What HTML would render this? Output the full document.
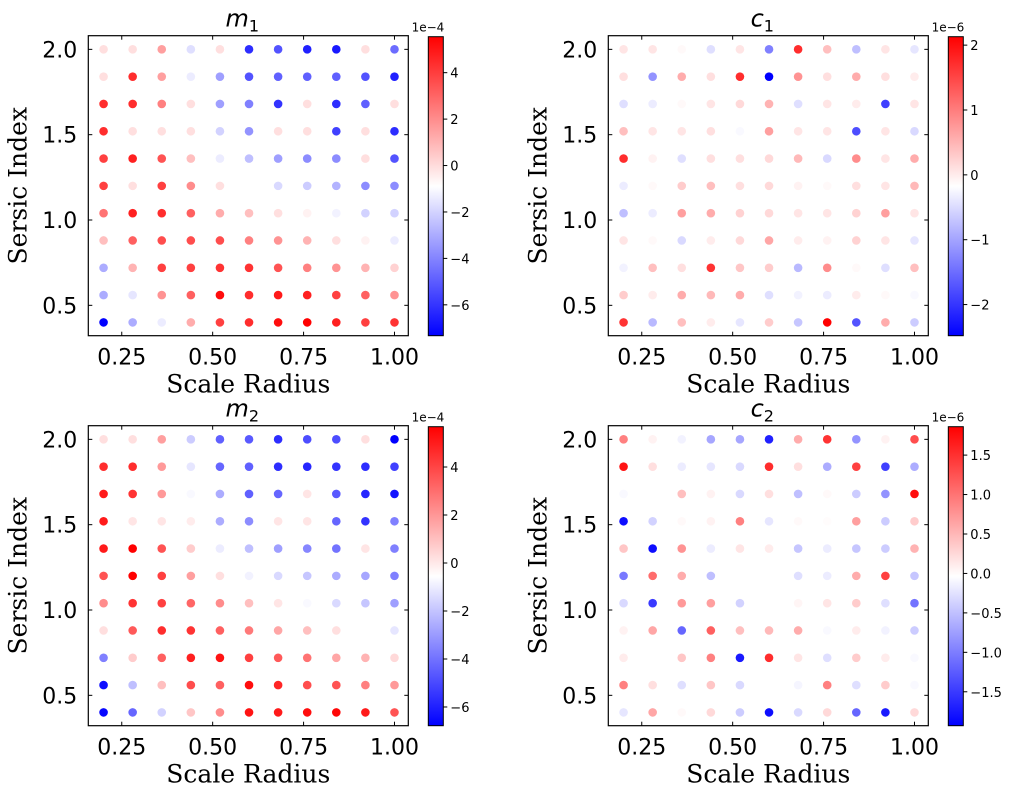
<!DOCTYPE html>
<html><head><meta charset="utf-8"><style>
body{margin:0;background:#fff;}
svg text{font-family:"DejaVu Sans","Liberation Sans",sans-serif;}
</style></head><body>
<svg id="fig" width="1016" height="798" xmlns="http://www.w3.org/2000/svg"></svg>
<script>
const xCats=[0.2,0.28,0.36,0.44,0.52,0.6,0.68,0.76,0.84,0.92,1.0];
const yCats=[2.0,1.84,1.68,1.52,1.36,1.2,1.04,0.88,0.72,0.56,0.4];
const xTicks=[0.25,0.5,0.75,1.0];
const xTickLabels=["0.25","0.50","0.75","1.00"];
const yTicks=[0.5,1.0,1.5,2.0];
const yTickLabels=["0.5","1.0","1.5","2.0"];
// colour levels (-4 full blue .. 4 full red), rows top (2.0) to bottom (0.4)
const m1Vals=[
[0.5,0.5,1.5,-0.5,0.5,-3.3,-2.7,-3.5,-3.6,0.5,-2.3],
[0.5,3.3,1.5,-0.3,-1.5,-2.7,-2.5,-2.5,-2.5,-2.7,-3.5],
[3.3,3.3,2,0.5,-1.5,-2,-3.2,0.5,-3.3,-2.5,0.5],
[3.3,0.5,0.5,0.5,-0.7,-1.7,0.5,0.5,-3,0.5,-3.3],
[3,3.5,2.7,1,-0.3,-1,-1.5,-1.8,-1.8,0.5,-2.7],
[3,0.5,3,1.8,0.5,0,-0.6,-0.8,-1.2,-1.8,-1.8],
[2.2,3.5,3.3,2.5,1.3,1,0.5,0.2,-0.2,-0.7,-0.7],
[1,2.5,2.8,2.8,2.8,2,1.7,1.2,0.5,0.2,-0.3],
[-1.3,1.2,3,3,3.2,3.2,2.7,2,1.7,1.2,0.7],
[-1.3,-0.4,1.7,2.5,3.8,3.3,3.6,3.5,3,2.5,1.7],
[-4,-1.3,-0.3,1.3,3,3.3,3.8,4,3.5,3,3.2]];
const c1Vals=[
[0.4,0.4,0.1,-0.5,0.4,-2,3.3,1,-1,0.4,-0.4],
[0.5,-1.7,1.3,0.5,3.3,-4,1.7,0.5,1.3,0.5,0.3],
[-0.5,-0.3,0.1,0.4,0.6,1.2,-0.5,0.4,0.3,-3,0.4],
[1,0.4,0.4,0.5,-0.1,1.5,0.4,0.4,-2.8,0.4,-0.6],
[3.3,0.2,-0.5,0.5,0.5,0.6,1.1,-0.6,1.8,0.4,1.3],
[-0.3,0.1,0.8,1,0.5,0.6,0.2,0.1,0.5,0.4,1.1],
[-1,-0.3,1.5,1.3,0.7,0.6,0.4,0.4,0.7,1.5,0.4],
[0.4,0.1,-0.6,0.3,0.6,1.4,0.3,0.2,0.7,0.4,-0.4],
[-0.2,1,0.5,3.2,0.9,0.8,-1.1,1.8,0.1,-0.5,1],
[0.8,0.3,1.3,1.1,1.3,-0.5,-0.2,-0.3,0.3,0.1,-0.1],
[3.2,-1.1,1,0.3,-0.4,0.8,-0.9,4,-2.7,1.3,-0.8]];
const m2Vals=[
[0.5,0.5,1.5,-0.8,-2.5,-2.6,-3.3,-2.8,-2.8,0.5,-4],
[3.3,3.3,1.6,-0.4,-2.4,-2.5,-3.3,-3.4,-3.2,-3.3,-3],
[3.6,3.2,1.6,-0.1,-1.3,-2.5,-2.4,0.4,-2.6,-3.4,-3.7],
[3.6,0.4,0.4,0.3,-1.3,-1.8,0.4,0.4,-2.4,-3.2,-2],
[3.6,4,2.7,0.8,-0.3,-1,-1.5,-1.9,-2.2,0.4,-2],
[2.7,4,3,1.5,0.5,-0.2,-0.6,-0.9,-1.3,-1.4,-2],
[1.8,3.2,3,2.4,1.8,1,0.4,-0.1,-0.6,-0.9,-1.5],
[0.5,2.6,3.3,3.2,2.5,2.1,1.4,1,0.5,0,-0.4],
[-2,0.8,2.5,3.5,3.7,3,2.6,2.2,1.4,1.2,0.6],
[-3.8,-1,1,2.8,2.5,3.8,3.4,2.8,2.7,2,1.6],
[-3.9,-2.4,-0.7,0.9,1.8,3.7,3.6,3.8,3.9,3.6,2.7]];
const c2Vals=[
[2,0.2,-0.2,-1.4,-1.4,-3.5,1.3,3.2,-1.7,0.2,2.8],
[3.7,0.5,-0.3,-0.4,-0.6,3.3,0.5,-1.3,3,-3,-1.3],
[-0.1,0,1,0.2,-0.6,0.5,-1,0.1,-0.8,-1.7,3.8],
[-3.8,-0.7,0.1,0.2,2,-0.4,0.1,0.05,1.5,-0.8,0.8],
[0.9,-3.8,1.7,-0.3,0.4,0.3,-0.9,-0.3,-0.9,-0.8,1.2],
[-2.1,2.3,1.3,-1,0,0,-0.5,-0.3,1.3,3,-0.9],
[-0.6,-3.1,1.6,1.5,-0.7,0,0.15,0.4,0.8,-0.5,-2.2],
[0.2,1.4,-2.4,2.5,1,1.1,1.3,-0.1,0.3,-0.2,-0.8],
[0.3,0,0.9,2,-3.6,3.3,0.4,-0.5,0.8,0.3,-0.1],
[2,0.5,-0.5,0.9,-0.6,0,-0.15,2,-0.5,0.8,-0.1],
[-0.4,1.4,0.1,0.6,-0.8,-3.8,-0.6,0.6,-2.4,-3.6,0.6]];
const m1CbTicks=[4,2,0,-2,-4,-6];
const c1CbTicks=[2,1,0,-1,-2];
const m2CbTicks=[4,2,0,-2,-4,-6];
const c2CbTicks=[1.5,1.0,0.5,0.0,-0.5,-1.0,-1.5];
const c2CbLabels=["1.5","1.0","0.5","0.0","\u22120.5","\u22121.0","\u22121.5"];

const NS="http://www.w3.org/2000/svg";
const svg=document.getElementById('fig');
function mk(tag,attrs,parent){const e=document.createElementNS(NS,tag);for(const k in attrs)e.setAttribute(k,attrs[k]);(parent||svg).appendChild(e);return e;}
function bwr(t){t=Math.max(0,Math.min(1,t));let r,g,b;if(t<0.5){r=g=Math.round(510*t);b=255;}else{r=255;g=b=Math.round(255*(2-2*t));}return `rgb(${r},${g},${b})`;}
const XD=[0.158,1.038],YD=[0.322,2.08];
const SERIF='font-family:"DejaVu Serif","Liberation Serif",serif';
function panel(id,vals,left,top,title,sub,cbTicks,cbLabels,cbMin,cbMax,exp){
  const W=320,H=300;
  const sx=v=>left+(v-XD[0])/(XD[1]-XD[0])*W;
  const sy=v=>top+H-(v-YD[0])/(YD[1]-YD[0])*H;
  const g=mk('g',{});
  
  
  for(let r=0;r<yCats.length;r++)for(let c=0;c<xCats.length;c++){
    const d=mk('circle',{cx:sx(xCats[c]),cy:sy(yCats[r]),r:4.3,fill:bwr((vals[r][c]+4)/8)},g);
    
    
  }
  const fr=mk('rect',{x:left,y:top,width:W,height:H,fill:'none',stroke:'#000','stroke-width':1.2},g);
  
  
  xTicks.forEach((v,i)=>{const x=sx(v);
    mk('line',{x1:x,x2:x,y1:top+H,y2:top+H-4,stroke:'#000'},g);
    mk('line',{x1:x,x2:x,y1:top,y2:top+4,stroke:'#000'},g);
    const t=mk('text',{x:x,y:top+H+29,'font-size':22,'text-anchor':'middle'},g);t.textContent=xTickLabels[i];
    
    
  });
  yTicks.forEach((v,i)=>{const y=sy(v);
    mk('line',{x1:left,x2:left+4,y1:y,y2:y,stroke:'#000'},g);
    mk('line',{x1:left+W,x2:left+W-4,y1:y,y2:y,stroke:'#000'},g);
    const t=mk('text',{x:left-11,y:y+8,'font-size':22,'text-anchor':'end'},g);t.textContent=yTickLabels[i];
    
    
  });
  const xl=mk('text',{x:left+W/2,y:top+H+57,'font-size':25,'text-anchor':'middle',style:SERIF},g);xl.textContent='Scale Radius';
  
  
  const yl=mk('text',{x:0,y:0,'font-size':25,'text-anchor':'middle',style:SERIF,transform:`translate(${left-62},${top+H/2}) rotate(-90)`},g);yl.textContent='Sersic Index';
  
  
  const tt=mk('text',{x:left+W/2-6,y:top-9,'font-size':24,'text-anchor':'middle','font-style':'italic'},g);tt.textContent=title;
  const ts=mk('tspan',{'font-size':16,'font-style':'normal',dy:5},tt);ts.textContent=sub;
  
  
  const cx=left+W+20,cw=15;
  const defs=mk('defs',{},g);
  const lg=mk('linearGradient',{id:id+'grad',x1:0,y1:1,x2:0,y2:0},defs);
  for(let i=0;i<=10;i++)mk('stop',{offset:i/10,'stop-color':bwr(i/10)},lg);
  const cb=mk('rect',{x:cx,y:top+1,width:cw,height:H-1,fill:`url(#${id}grad)`,stroke:'#000','stroke-width':1},g);
  
  
  const cy=v=>top+1+(cbMax-v)/(cbMax-cbMin)*(H-1);
  cbTicks.forEach((v,i)=>{const y=cy(v);
    mk('line',{x1:cx+cw,x2:cx+cw+4,y1:y,y2:y,stroke:'#000'},g);
    const t=mk('text',{x:cx+cw+7,y:y+5,'font-size':13},g);
    t.textContent=cbLabels?cbLabels[i]:String(v).replace('-','\u2212');
    
    
  });
  const ex=mk('text',{x:cx+cw+1,y:top-4,'font-size':12,'text-anchor':'end'},g);ex.textContent=exp;
  
  
}
panel('m1',m1Vals,88.3,35.7,'m','1',m1CbTicks,null,-7.33,5.55,'1e\u22124');
panel('c1',c1Vals,608.3,35.7,'c','1',c1CbTicks,null,-2.48,2.13,'1e\u22126');
panel('m2',m2Vals,88.3,425.7,'m','2',m2CbTicks,null,-6.78,5.68,'1e\u22124');
panel('c2',c2Vals,608.3,425.7,'c','2',c2CbTicks,c2CbLabels,-1.93,1.86,'1e\u22126');
</script>
</body></html>
